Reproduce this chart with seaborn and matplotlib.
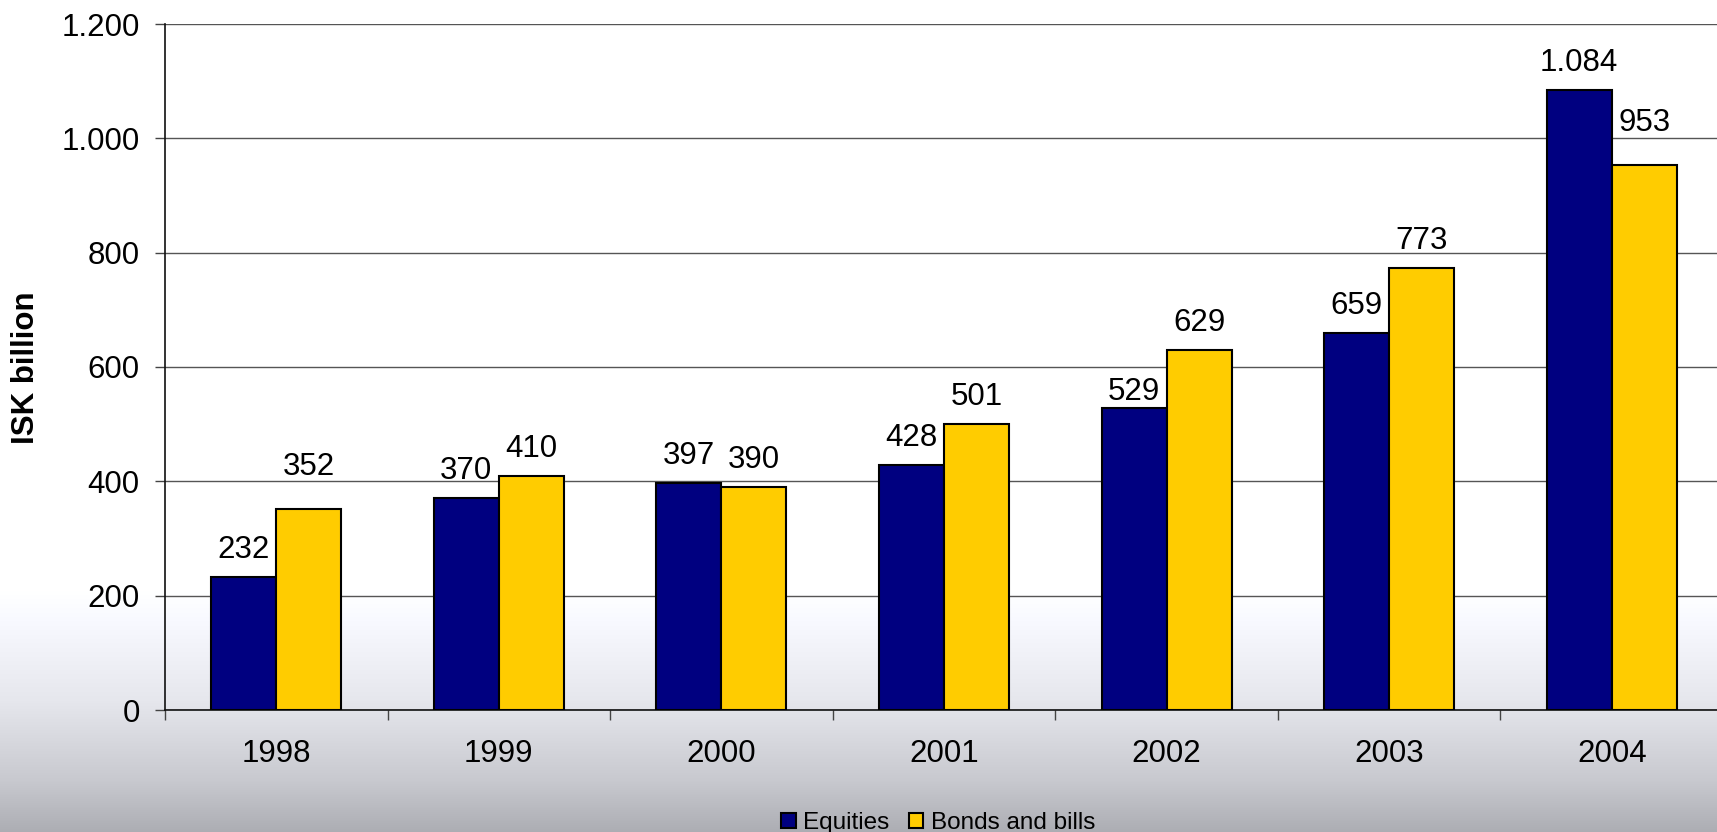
import numpy as np
import pandas as pd
import matplotlib
matplotlib.use('Agg')
import matplotlib.pyplot as plt
import seaborn as sns
from matplotlib import font_manager
from matplotlib.ticker import FuncFormatter, FixedLocator

# DATA
years = ['1998', '1999', '2000', '2001', '2002', '2003', '2004']
equities = [232, 370, 397, 428, 529, 659, 1084]
bonds = [352, 410, 390, 501, 629, 773, 953]
series_names = ['Equities', 'Bonds and bills']

# gap between bar top and label baseline, in pixels (labels were nudged in the original)
gap_eq = [19, 19, 19, 19, 8, 19, 19]
gap_bd = [34, 19, 19, 19, 19, 19, 34]

df = pd.DataFrame({
    'Year': years * 2,
    'Value': equities + bonds,
    'Series': [series_names[0]] * len(years) + [series_names[1]] * len(years),
})

sns.set_style('white')
# the original text looks vertically stretched, a narrow face gets close
installed = {f.name for f in font_manager.fontManager.ttflist}
if 'Liberation Sans Narrow' in installed:
    fam = 'Liberation Sans Narrow'
    fs, fs_leg = 26, 21
else:
    fam = 'Liberation Sans'
    fs, fs_leg = 22.5, 17.5
plt.rcParams['font.family'] = [fam, 'DejaVu Sans']
plt.rcParams['text.color'] = 'black'
plt.rcParams['xtick.color'] = 'black'
plt.rcParams['ytick.color'] = 'black'
plt.rcParams['axes.labelcolor'] = 'black'

W, H = 1717, 832
fig = plt.figure(figsize=(W / 100, H / 100), dpi=100)

# background gradient (white top, grey bottom)
bg = fig.add_axes([0, 0, 1, 1], zorder=-10)
rows = np.arange(H)
stops_y = [0, 590, 700, 780, 832]
stops_c = [255, 255, 230, 200, 172]
g = np.interp(rows, stops_y, stops_c)
img = np.stack([g, g + 1, g + 7], axis=-1).clip(0, 255) / 255.0
img = np.repeat(img[:, None, :], 8, axis=1)
bg.imshow(img, aspect='auto', extent=[0, 1, 0, 1], origin='upper')
bg.axis('off')

ax = fig.add_axes([165 / W, 122 / H, 1558 / W, 686 / H])
ax.set_facecolor('none')

sns.barplot(data=df, x='Year', y='Value', hue='Series',
            palette=['#000080', '#FFCC00'], saturation=1, width=0.584,
            edgecolor='black', linewidth=1.5, ax=ax, zorder=3)

ax.set_ylim(0, 1200)
ax.set_xlim(-0.5, len(years) - 0.5)
ax.yaxis.set_major_locator(FixedLocator(np.arange(0, 1201, 200)))
ax.yaxis.set_major_formatter(FuncFormatter(lambda v, p: f"{int(v):,}".replace(',', '.')))
ax.grid(axis='y', color='#555555', linewidth=1.0, zorder=0)
ax.set_axisbelow(True)

for s in ['top', 'right']:
    ax.spines[s].set_visible(False)
for s in ['left', 'bottom']:
    ax.spines[s].set_color('#111111')
    ax.spines[s].set_linewidth(1.2)

ax.tick_params(axis='y', length=7.2, width=1.0, color='#444444', pad=11,
               labelsize=fs, left=True)
ax.tick_params(axis='x', which='major', length=0, pad=21, labelsize=fs)
ax.xaxis.set_minor_locator(FixedLocator(np.arange(-0.5, len(years), 1.0)))
ax.tick_params(axis='x', which='minor', length=7.2, width=1.0, color='#444444', bottom=True)

ax.set_xlabel('')
ax.set_ylabel('ISK billion', fontsize=fs, fontweight='bold', va='center')
ax.yaxis.set_label_coords((26 - 165) / 1558, (710 - 368) / 686)

# value labels
for cont, gaps in zip(ax.containers, [gap_eq, gap_bd]):
    for bar, gp in zip(cont, gaps):
        v = int(round(bar.get_height()))
        ax.annotate(f"{v:,}".replace(',', '.'),
                    (bar.get_x() + bar.get_width() / 2, bar.get_height()),
                    xytext=(0, gp * 0.72), textcoords='offset points',
                    ha='center', va='baseline', fontsize=fs, zorder=5)

handles, labels = ax.get_legend_handles_labels()
ax.get_legend().remove()
fig.legend(handles, labels, loc='center', bbox_to_anchor=(938 / W, 9 / H),
           ncol=2, frameon=False, fontsize=fs_leg, handlelength=0.6, handleheight=0.6,
           handletextpad=0.3, columnspacing=0.8, borderpad=0)

fig.savefig('out.png', dpi=100)
